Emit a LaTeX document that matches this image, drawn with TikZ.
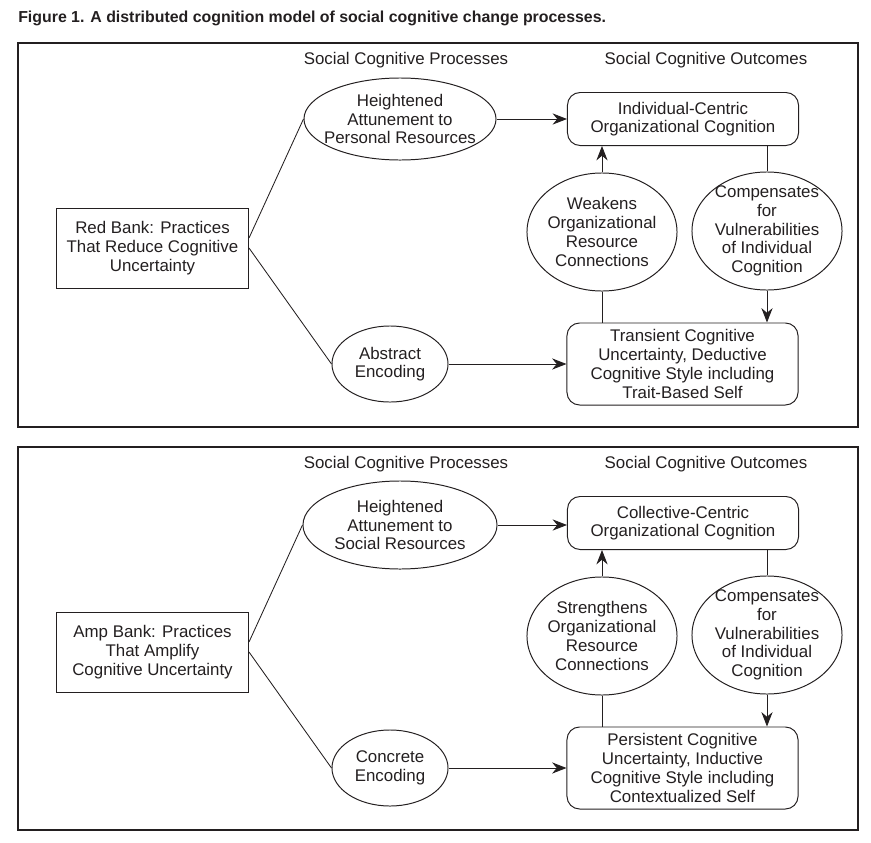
\documentclass[tikz,border=0pt]{standalone}
\usepackage{fontspec}
\setmainfont{Liberation Sans}
\usetikzlibrary{arrows.meta,positioning,calc,shapes.geometric}
\definecolor{inkc}{HTML}{231F20}
\tikzset{
  >={Stealth[length=3.6mm,width=2.8mm]},
  txt/.style={font=\fontsize{12}{13.3}\selectfont,text=inkc,align=center,inner sep=0pt},
  hdr/.style={txt},
  ttl/.style={font=\fontsize{11.3}{13}\selectfont\bfseries,text=inkc,anchor=base west,inner sep=0pt},
  panel/.style={draw=inkc,line width=0.9pt},
  srcbox/.style={txt,draw=inkc,line width=0.7pt,minimum width=4.8cm,minimum height=2cm},
  outbox/.style={txt,draw=inkc,line width=0.7pt,rounded corners=9pt,minimum width=5.775cm,minimum height=2.05cm},
  proc/.style={txt,ellipse,draw=inkc,line width=0.7pt,inner xsep=-8pt,inner ysep=-6pt},
  link/.style={draw=inkc,line width=0.6pt},
  ptr/.style={link,->},
}

\begin{document}
\begin{tikzpicture}[x=0.025cm,y=-0.025cm]
  \useasboundingbox (0,0) rectangle (871,843);
  \node[ttl] (title) at (18,22) {Figure 1. A distributed cognition model of social cognitive change processes.};

  \draw[panel] (18,43) rectangle (858,427);
  \node[hdr] (proc1) at (406,60) {Social Cognitive Processes};
  \node[hdr] (outc1) at (706,60) {Social Cognitive Outcomes};
  \node[srcbox] (red) at (152.5,248) {Red Bank: Practices\\That Reduce Cognitive\\Uncertainty};
  \node[proc,minimum width=4.8cm,minimum height=2.05cm] (hp1) at (400,119) {Heightened\\Attunement to\\Personal Resources};
  \node[proc,minimum width=2.9cm,minimum height=1.9cm] (ae) at (390,364) {Abstract\\Encoding};
  \node[outbox,minimum height=1.325cm] (ind) at (683,119) {Individual-Centric\\Organizational Cognition};
  \node[proc,minimum width=3.75cm,minimum height=2.95cm] (weak) at (602,232) {Weakens\\Organizational\\Resource\\Connections};
  \node[proc,minimum width=3.75cm,minimum height=2.95cm] (comp1) at (767,231) {Compensates\\for\\Vulnerabilities\\of Individual\\Cognition};
  \node[outbox] (trans) at (682.5,364) {Transient Cognitive\\Uncertainty, Deductive\\Cognitive Style including\\Trait-Based Self};
  \draw[link] ($(red.east)+(0,-10)$) -- (hp1.west);
  \draw[link] (red.east) -- (ae.west);
  \draw[ptr] (hp1.east) -- (hp1.east -| ind.west);
  \draw[ptr] (ae.east) -- (ae.east -| trans.west);
  \draw[ptr] (weak.north) -- (weak.north |- ind.south);
  \draw[link] (weak.south) -- (weak.south |- trans.north);
  \draw[link] (comp1.north |- ind.south) -- (comp1.north);
  \draw[ptr] (comp1.south) -- (comp1.south |- trans.north);

  \draw[panel] (18,447) rectangle (858,830);
  \node[hdr] (proc2) at (406,464) {Social Cognitive Processes};
  \node[hdr] (outc2) at (706,464) {Social Cognitive Outcomes};
  \node[srcbox] (amp) at (152.5,652) {Amp Bank: Practices\\That Amplify\\Cognitive Uncertainty};
  \node[proc,minimum width=4.85cm,minimum height=2.2cm] (hp2) at (400,525) {Heightened\\Attunement to\\Social Resources};
  \node[proc,minimum width=2.9cm,minimum height=1.9cm] (ce) at (390,768) {Concrete\\Encoding};
  \node[outbox,minimum height=1.325cm] (coll) at (683,523) {Collective-Centric\\Organizational Cognition};
  \node[proc,minimum width=3.75cm,minimum height=2.95cm] (strg) at (602,636) {Strengthens\\Organizational\\Resource\\Connections};
  \node[proc,minimum width=3.75cm,minimum height=2.95cm] (comp2) at (767,635) {Compensates\\for\\Vulnerabilities\\of Individual\\Cognition};
  \node[outbox] (pers) at (682.5,768) {Persistent Cognitive\\Uncertainty, Inductive\\Cognitive Style including\\Contextualized Self};
  \draw[link] ($(amp.east)+(0,-10)$) -- (hp2.west);
  \draw[link] (amp.east) -- (ce.west);
  \draw[ptr] (hp2.east) -- (hp2.east -| coll.west);
  \draw[ptr] (ce.east) -- (ce.east -| pers.west);
  \draw[ptr] (strg.north) -- (strg.north |- coll.south);
  \draw[link] (strg.south) -- (strg.south |- pers.north);
  \draw[link] (comp2.north |- coll.south) -- (comp2.north);
  \draw[ptr] (comp2.south) -- (comp2.south |- pers.north);
\end{tikzpicture}
\end{document}
